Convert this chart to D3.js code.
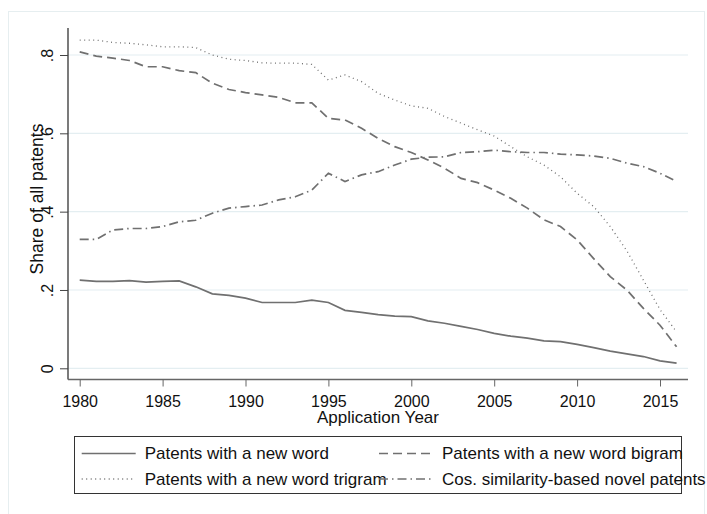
<!DOCTYPE html>
<html>
<head>
<meta charset="utf-8">
<script src="https://cdn.jsdelivr.net/npm/d3@7"></script>
<style>
  body { margin: 0; background: #fff; }
  text { font-family: "Liberation Sans", Arial, sans-serif; fill: #111; }
</style>
</head>
<body>
<div id="chart"></div>
<script>
// values
const years = d3.range(1980, 2017);
const newWord = [0.225, 0.222, 0.222, 0.224, 0.220, 0.222, 0.223, 0.208, 0.190, 0.186, 0.179, 0.168, 0.168, 0.168, 0.174, 0.168, 0.148, 0.143, 0.137, 0.133, 0.132, 0.121, 0.115, 0.107, 0.099, 0.089, 0.082, 0.077, 0.070, 0.068, 0.061, 0.053, 0.044, 0.037, 0.030, 0.019, 0.013];
const newBigram = [0.808, 0.797, 0.792, 0.786, 0.770, 0.770, 0.760, 0.755, 0.728, 0.712, 0.704, 0.698, 0.692, 0.678, 0.678, 0.638, 0.634, 0.613, 0.587, 0.566, 0.551, 0.532, 0.511, 0.485, 0.474, 0.455, 0.434, 0.409, 0.379, 0.362, 0.328, 0.280, 0.234, 0.200, 0.153, 0.110, 0.055];
const newTrigram = [0.838, 0.838, 0.832, 0.830, 0.826, 0.821, 0.821, 0.819, 0.800, 0.789, 0.786, 0.780, 0.779, 0.779, 0.776, 0.736, 0.749, 0.732, 0.702, 0.685, 0.670, 0.664, 0.643, 0.626, 0.609, 0.593, 0.566, 0.540, 0.519, 0.489, 0.447, 0.413, 0.362, 0.300, 0.225, 0.150, 0.093];
const cosSim = [0.329, 0.329, 0.353, 0.357, 0.357, 0.362, 0.374, 0.378, 0.396, 0.409, 0.413, 0.417, 0.430, 0.438, 0.455, 0.498, 0.477, 0.494, 0.502, 0.519, 0.534, 0.539, 0.540, 0.551, 0.553, 0.557, 0.553, 0.551, 0.551, 0.547, 0.545, 0.542, 0.536, 0.524, 0.515, 0.498, 0.477];
const xTicks = [1980, 1985, 1990, 1995, 2000, 2005, 2010, 2015];
const yTicks = [0, 0.2, 0.4, 0.6, 0.8];
const yTickLabels = ["0", ".2", ".4", ".6", ".8"];

const seriesNames = ["Patents with a new word", "Patents with a new word bigram",
  "Patents with a new word trigram", "Cos. similarity-based novel patents"];
const seriesValues = [newWord, newBigram, newTrigram, cosSim];
const dashes = [null, "9,5", "1,3.5", "9,4,1.5,4"];

const W = 707, H = 514;
const lineColor = "#707070";

const svg = d3.select("#chart").append("svg")
  .attr("width", W).attr("height", H);

// outer frame
svg.append("rect")
  .attr("x", 8.5).attr("y", 11.5)
  .attr("width", 696).attr("height", 520)
  .attr("fill", "none").attr("stroke", "#e6eef0");

const x = d3.scaleLinear().domain([1980, 2015]).range([79.7, 660]);
const y = d3.scaleLinear().domain([0, 0.8]).range([368.3, 55]);

const plotLeft = 68, plotRight = 688, axisY = 379.5;

// grid
svg.append("g").selectAll("line")
  .data(yTicks)
  .join("line")
  .attr("x1", plotLeft).attr("x2", plotRight)
  .attr("y1", d => y(d)).attr("y2", d => y(d))
  .attr("stroke", "#e4eef1").attr("stroke-width", 1.2);

// y axis
const yAxis = svg.append("g")
  .attr("transform", `translate(${plotLeft},0)`)
  .call(d3.axisLeft(y).tickValues(yTicks).tickSize(8).tickPadding(7)
    .tickFormat((d, i) => yTickLabels[i]));
yAxis.select(".domain").attr("d", `M0,28V${axisY}`).attr("stroke", "#333").attr("stroke-width", 1.3);
yAxis.selectAll(".tick line").attr("stroke", "#444");
yAxis.selectAll(".tick text")
  .attr("transform", "rotate(-90)")
  .attr("x", 0).attr("y", -15)
  .attr("dy", 0)
  .attr("text-anchor", "middle")
  .style("font-size", "16px");

// x axis
const xAxis = svg.append("g")
  .attr("transform", `translate(0,${axisY})`)
  .call(d3.axisBottom(x).tickValues(xTicks).tickSize(7).tickPadding(5)
    .tickFormat(d3.format("d")));
xAxis.select(".domain").attr("d", `M${plotLeft},0H${plotRight}`).attr("stroke", "#666").attr("stroke-width", 1.3);
xAxis.selectAll(".tick line").attr("stroke", "#666");
xAxis.selectAll(".tick text").style("font-size", "16px").attr("dy", "0.95em");

// axis titles
svg.append("text")
  .attr("x", 378).attr("y", 423)
  .attr("text-anchor", "middle")
  .style("font-size", "17px")
  .text("Application Year");

svg.append("text")
  .attr("transform", "translate(43,199) rotate(-90)")
  .attr("text-anchor", "middle")
  .style("font-size", "17.5px")
  .text("Share of all patents");

// lines
const line = d3.line()
  .x((d, i) => x(years[i]))
  .y(d => y(d));

svg.append("g").selectAll("path")
  .data(seriesValues)
  .join("path")
  .attr("d", line)
  .attr("fill", "none")
  .attr("stroke", lineColor)
  .attr("stroke-width", (d, i) => i === 2 ? 1.3 : 1.7)
  .attr("stroke-dasharray", (d, i) => dashes[i]);

// legend
svg.append("rect")
  .attr("x", 74.5).attr("y", 436.5)
  .attr("width", 607).attr("height", 57)
  .attr("fill", "none").attr("stroke", "#333");

const legPos = [[81.7, 453.5], [379, 453.5], [81.7, 479], [379, 479]];
const legend = svg.append("g").selectAll("g")
  .data(seriesNames)
  .join("g")
  .attr("transform", (d, i) => `translate(${legPos[i][0]},${legPos[i][1]})`);

legend.append("line")
  .attr("x1", 0).attr("x2", 54)
  .attr("stroke", lineColor)
  .attr("stroke-width", (d, i) => i === 2 ? 1.3 : 1.7)
  .attr("stroke-dasharray", (d, i) => dashes[i]);

legend.append("text")
  .attr("x", 63)
  .attr("dy", "0.35em")
  .style("font-size", "17px")
  .text(d => d);
</script>
</body>
</html>
